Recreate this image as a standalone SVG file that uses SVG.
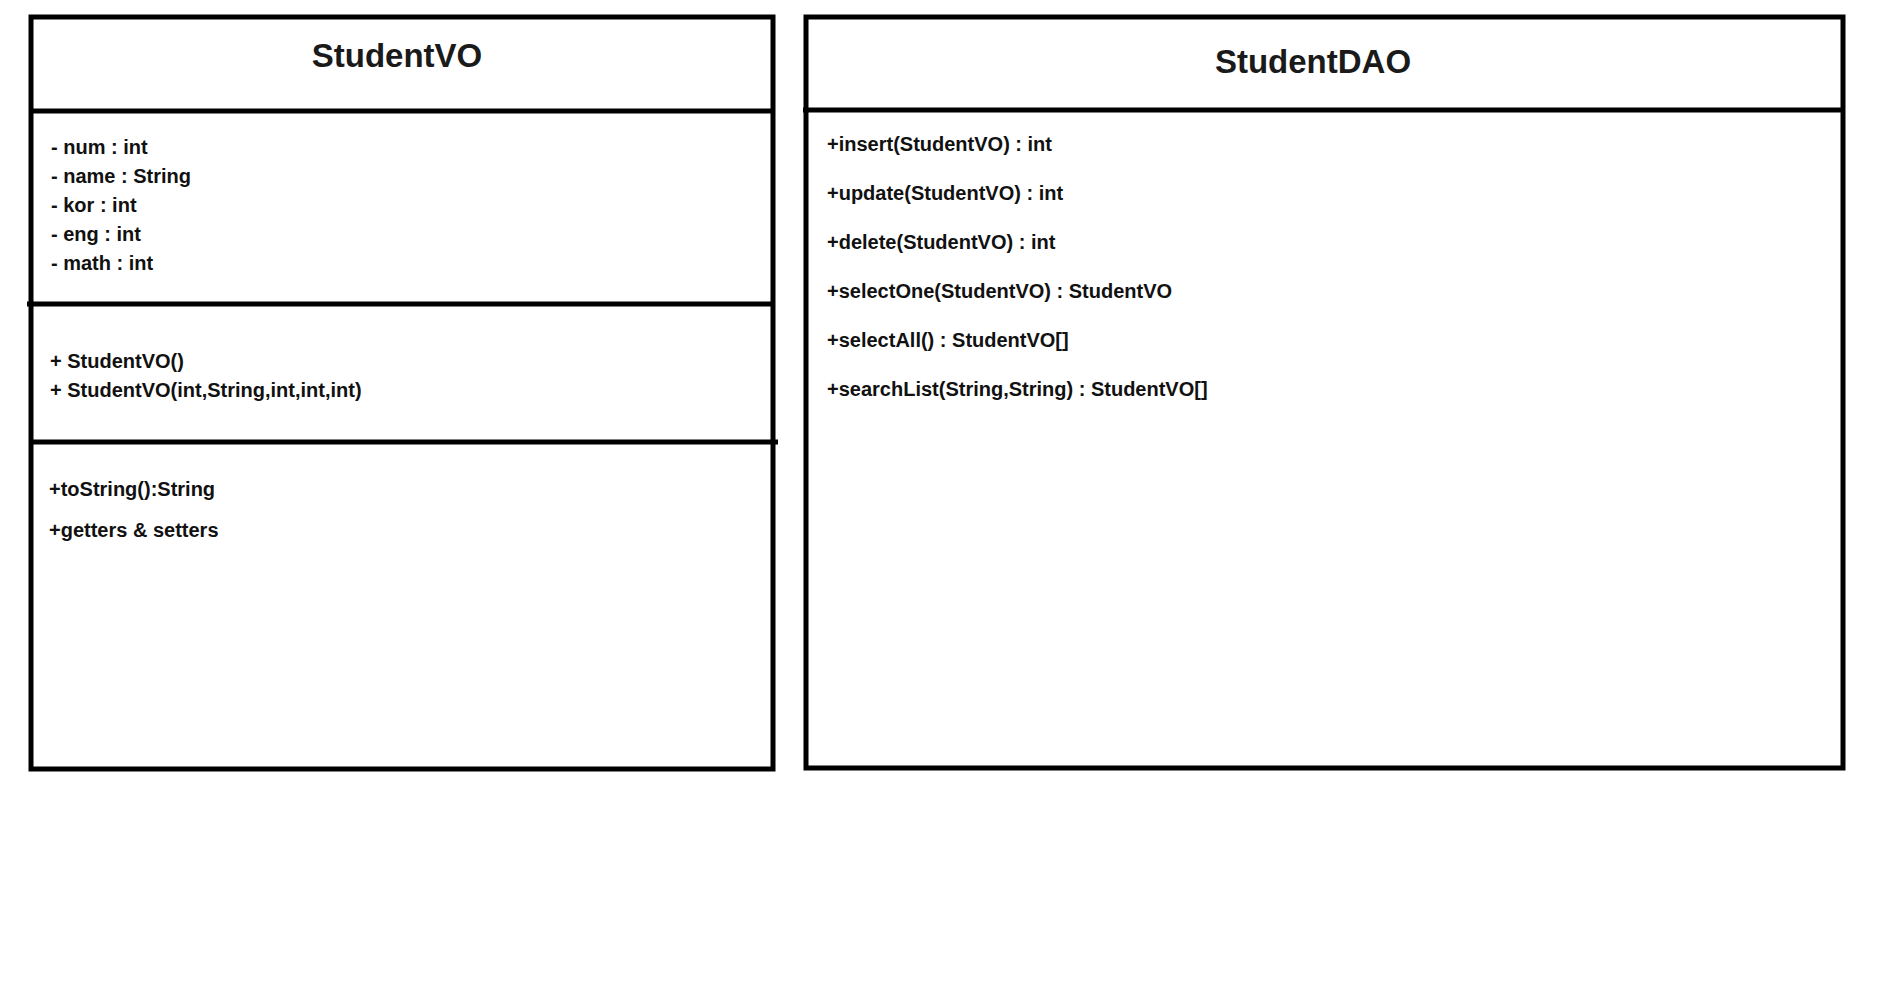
<svg xmlns="http://www.w3.org/2000/svg" width="1881" height="1000" viewBox="0 0 1881 1000">
<style>
.box{fill:none;stroke:#000;stroke-width:5}
.div{stroke:#000;stroke-width:5;stroke-linecap:butt}
.title{font-family:"Liberation Sans",Arial,sans-serif;font-weight:bold;font-size:33px;fill:#1a1a1a;text-anchor:middle}
.t{font-family:"Liberation Sans",Arial,sans-serif;font-weight:bold;font-size:20px;fill:#111}
</style>
<rect width="1881" height="1000" fill="#fff"/>
<g id="StudentVO">
<rect class="box" x="31" y="17" width="742" height="752"/>
<line class="div" x1="31" y1="111" x2="773" y2="111"/>
<line class="div" x1="27" y1="304" x2="773" y2="304"/>
<line class="div" x1="31" y1="442" x2="778" y2="442"/>
<text class="title" x="397" y="67">StudentVO</text>
<text class="t" x="51" y="154">- num : int</text>
<text class="t" x="51" y="183">- name : String</text>
<text class="t" x="51" y="212">- kor : int</text>
<text class="t" x="51" y="241">- eng : int</text>
<text class="t" x="51" y="270">- math : int</text>
<text class="t" x="50" y="368">+ StudentVO()</text>
<text class="t" x="50" y="397">+ StudentVO(int,String,int,int,int)</text>
<text class="t" x="49" y="496">+toString():String</text>
<text class="t" x="49" y="537">+getters &amp; setters</text>
</g>
<g id="StudentDAO">
<rect class="box" x="806" y="17" width="1037" height="751"/>
<line class="div" x1="803" y1="110" x2="1843" y2="110"/>
<text class="title" x="1313" y="73">StudentDAO</text>
<text class="t" x="827" y="151">+insert(StudentVO) : int</text>
<text class="t" x="827" y="200">+update(StudentVO) : int</text>
<text class="t" x="827" y="249">+delete(StudentVO) : int</text>
<text class="t" x="827" y="298">+selectOne(StudentVO) : StudentVO</text>
<text class="t" x="827" y="347">+selectAll() : StudentVO[]</text>
<text class="t" x="827" y="396">+searchList(String,String) : StudentVO[]</text>
</g>
<g id="connectors"/>
</svg>
